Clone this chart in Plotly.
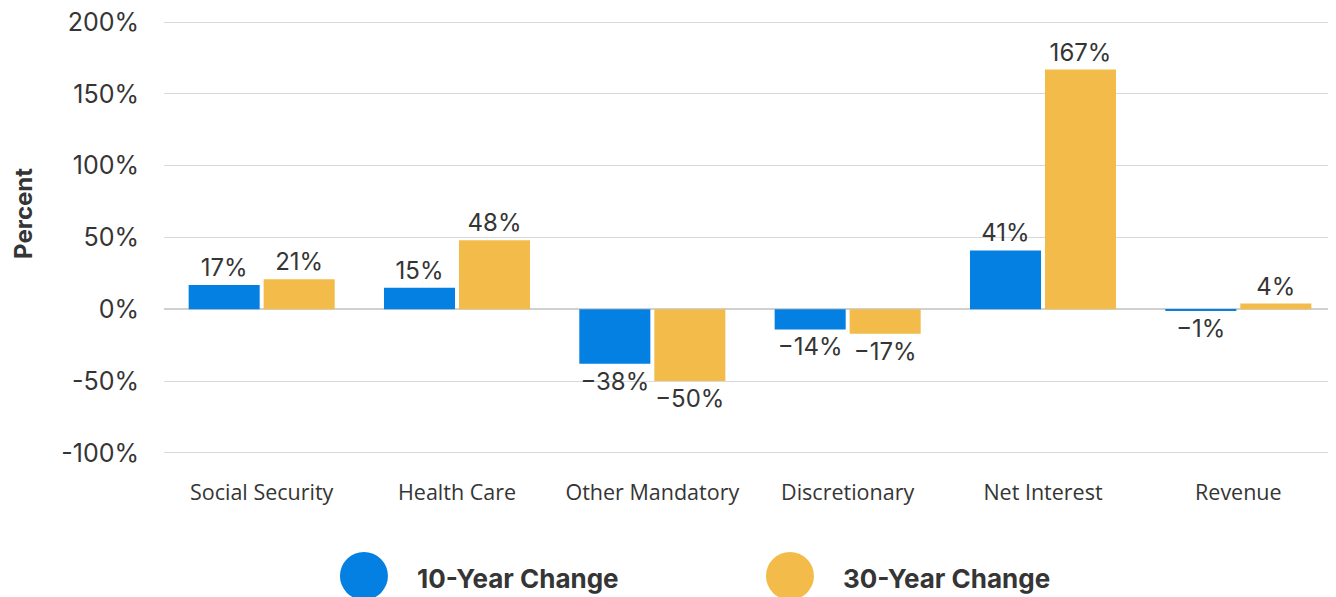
import plotly.graph_objects as go

categories = ["Social Security", "Health Care", "Other Mandatory", "Discretionary", "Net Interest", "Revenue"]
change_10yr = [17, 15, -38, -14, 41, -1]
change_30yr = [21, 48, -50, -17, 167, 4]
tick_vals = [-100, -50, 0, 50, 100, 150, 200]
tick_text = ["-100%", "-50%", "0%", "50%", "100%", "150%", "200%"]
series_names = ["10-Year Change", "30-Year Change"]

BLUE = "#0380E1"
GOLD = "#F3BC4A"
TXT = "#353535"
NUMFONT = "Inter"
CATFONT = "Open Sans"

def lab(v):
    return ("\u2212" if v < 0 else "") + f"{abs(v)}%"

fig = go.Figure()
for name, vals, col in [(series_names[0], change_10yr, BLUE), (series_names[1], change_30yr, GOLD)]:
    fig.add_trace(go.Bar(
        x=categories, y=vals, name=name, marker_color=col, marker_line_width=0,
        text=[lab(v) for v in vals], textposition="outside",
        textfont=dict(family=NUMFONT, size=24, color=TXT), cliponaxis=False,
        showlegend=False,
    ))

# page body has an 8px margin, so the figure is sized to end at the window edge
fig.update_layout(
    width=1328, height=589,
    margin=dict(l=156, r=0, t=12, b=142, autoexpand=False),
    plot_bgcolor="white", paper_bgcolor="white",
    barmode="group", bargap=0.232, bargroupgap=0.053,
    font=dict(family=NUMFONT, color=TXT),
)
fig.update_yaxes(
    range=[-101.5, 201.5], tickvals=tick_vals, ticktext=tick_text,
    showgrid=True, gridcolor="#d9d9d9", gridwidth=1,
    zeroline=True, zerolinecolor="#d0d0d0", zerolinewidth=1.5,
    tickfont=dict(family=NUMFONT, size=25, color=TXT), ticklabelstandoff=24,
    ticklabeloverflow="allow",
    showline=False, ticks="", automargin=False,
)
fig.update_xaxes(
    showgrid=False, showline=False, ticks="",
    tickfont=dict(family=CATFONT, size=21.5, color=TXT), ticklabelstandoff=22,
    automargin=False,
)

# y-axis title
fig.add_annotation(xref="paper", yref="paper", x=-0.1205, y=0.556, xanchor="center", yanchor="middle",
                   text="<b>Percent</b>", textangle=-90, showarrow=False,
                   font=dict(family=NUMFONT, size=24, color=TXT))

# custom legend
legend_items = [(0.1706, 0.2142, BLUE, series_names[0]), (0.5341, 0.5776, GOLD, series_names[1])]
for cx, tx, col, name in legend_items:
    fig.add_shape(type="circle", xref="paper", yref="paper", xsizemode="pixel", ysizemode="pixel",
                  xanchor=cx, yanchor=-0.278, x0=-24, x1=24, y0=-24, y1=24,
                  fillcolor=col, line_width=0)
    fig.add_annotation(xref="paper", yref="paper", x=tx, y=-0.285, xanchor="left", yanchor="middle",
                       text=f"<b>{name}</b>", showarrow=False,
                       font=dict(family=NUMFONT, size=26, color=TXT))

fig.write_html("out.html")
